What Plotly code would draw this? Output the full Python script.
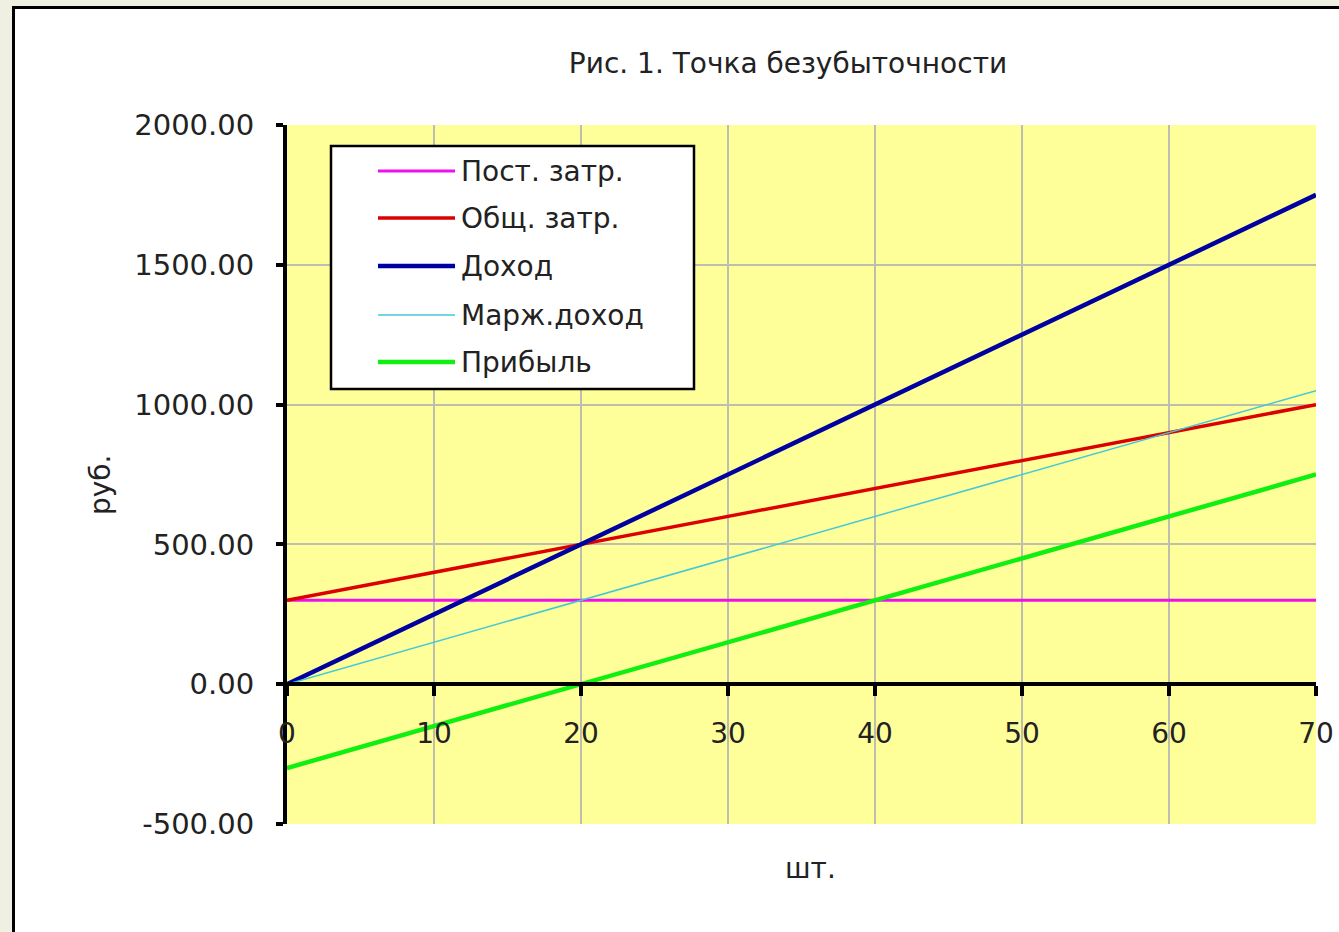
import plotly.graph_objects as go

# ---- data ----
units = [0, 10, 20, 30, 40, 50, 60, 70]
fixed_costs = [300, 300, 300, 300, 300, 300, 300, 300]
total_costs = [300, 400, 500, 600, 700, 800, 900, 1000]
revenue = [0, 250, 500, 750, 1000, 1250, 1500, 1750]
marginal_income = [0, 150, 300, 450, 600, 750, 900, 1050]
profit = [-300, -150, 0, 150, 300, 450, 600, 750]

series_names = ["Пост. затр.", "Общ. затр.", "Доход", "Марж.доход", "Прибыль"]
series_values = [fixed_costs, total_costs, revenue, marginal_income, profit]
series_colors = ["#EE11EE", "#DD0000", "#0000A0", "#44C8D8", "#11EE11"]
series_widths = [3, 3.5, 4.5, 1.5, 4.5]

title_text = "Рис. 1. Точка безубыточности"
x_title = "шт."
y_title = "руб."
y_ticks = [-500, 0, 500, 1000, 1500, 2000]
x_ticks = [0, 10, 20, 30, 40, 50, 60, 70]

# ---- layout geometry (pixels) ----
W, H = 1339, 932
L, R, T, B = 287, 1316, 125, 824
PW, PH = R - L, B - T
FONT = "DejaVu Sans"
TXT = "#222222"
FS = 28


def px(xp):
    return (xp - L) / PW


def py(yp):
    return (B - yp) / PH


fig = go.Figure()
for name, vals, col, w in zip(series_names, series_values, series_colors, series_widths):
    fig.add_trace(go.Scatter(
        x=units, y=vals, mode="lines", name=name, showlegend=False,
        line=dict(color=col, width=w),
    ))

y0_frac = (0 - (-500)) / (2000 - (-500))

fig.update_layout(
    width=W, height=H,
    margin=dict(l=L, r=W - R, t=T, b=H - B, autoexpand=False),
    paper_bgcolor="white",
    plot_bgcolor="#FFFF99",
    font=dict(family=FONT, size=FS, color=TXT),
    title=dict(text=title_text, x=788 / W, xref="container", xanchor="center",
               y=1 - 63 / H, yref="container", yanchor="middle",
               font=dict(family=FONT, size=FS, color=TXT)),
    xaxis=dict(
        range=[0, 70], tickvals=x_ticks, ticktext=[str(v) for v in x_ticks],
        anchor="free", position=y0_frac, automargin=False,
        showgrid=True, gridcolor="#BDBDB0", gridwidth=1.5,
        showline=True, linecolor="black", linewidth=4,
        ticks="outside", ticklen=10, tickwidth=4, tickcolor="black",
        ticklabelstandoff=13, zeroline=False,
        tickfont=dict(family=FONT, size=FS, color=TXT),
    ),
    yaxis=dict(
        range=[-500, 2000], tickvals=y_ticks,
        ticktext=["%.2f" % v for v in y_ticks],
        domain=[0, 1], automargin=False,
        showgrid=True, gridcolor="#BDBDB0", gridwidth=1.5,
        showline=True, linecolor="black", linewidth=4,
        ticks="outside", ticklen=7, tickwidth=4, tickcolor="black",
        ticklabelstandoff=16, zeroline=False,
        tickfont=dict(family=FONT, size=FS + 1, color=TXT),
    ),
    showlegend=False,
)

# axis titles
fig.add_annotation(text=y_title, xref="paper", yref="paper", x=px(100), y=py(485),
                   textangle=-90, showarrow=False, xanchor="center", yanchor="middle",
                   font=dict(family=FONT, size=FS, color=TXT))
fig.add_annotation(text=x_title, xref="paper", yref="paper", x=px(810), y=py(868),
                   showarrow=False, xanchor="center", yanchor="middle",
                   font=dict(family=FONT, size=FS, color=TXT))

# legend box (drawn like the original chart's legend)
fig.add_shape(type="rect", xref="paper", yref="paper",
              x0=px(331), x1=px(694), y0=py(146), y1=py(389),
              fillcolor="white", line=dict(color="black", width=2.5))
row_y = [171, 218, 266, 315, 362]
for name, col, w, ry in zip(series_names, series_colors, series_widths, row_y):
    fig.add_shape(type="line", xref="paper", yref="paper",
                  x0=px(378), x1=px(455), y0=py(ry), y1=py(ry),
                  line=dict(color=col, width=w))
    fig.add_annotation(text=name, xref="paper", yref="paper", x=px(459), y=py(ry),
                       showarrow=False, xanchor="left", yanchor="middle",
                       font=dict(family=FONT, size=FS, color=TXT))

# outer page strip and frame
beige = "#EFEFE2"
fig.add_shape(type="rect", xref="paper", yref="paper", x0=px(0), x1=px(12), y0=py(0), y1=py(H),
              fillcolor=beige, line_width=0, layer="below")
fig.add_shape(type="rect", xref="paper", yref="paper", x0=px(0), x1=px(W), y0=py(0), y1=py(6),
              fillcolor=beige, line_width=0, layer="below")
fig.add_shape(type="line", xref="paper", yref="paper", x0=px(13.5), x1=px(13.5), y0=py(6), y1=py(H),
              line=dict(color="black", width=3))
fig.add_shape(type="line", xref="paper", yref="paper", x0=px(12), x1=px(W), y0=py(7.5), y1=py(7.5),
              line=dict(color="black", width=3))

fig.write_html("out.html", config={"displayModeBar": False},
               post_script="document.body.style.margin='0px';")
